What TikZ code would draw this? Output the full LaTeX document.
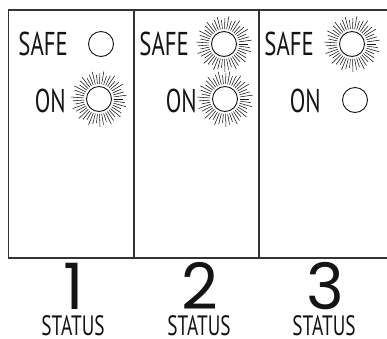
\documentclass[tikz,border=0pt]{standalone}
\usepackage{fontspec}
\newfontfamily\panelfont[FakeStretch=0.69]{PT Sans}
\newfontfamily\digitfont{Poppins}
\usetikzlibrary{positioning}
\definecolor{frameGray}{RGB}{51,51,51}
\definecolor{inkBlack}{RGB}{20,20,20}

% rays around a lit lamp
\newcommand{\sunrays}[1]{%
  \foreach \ang [count=\k] in {0,8,...,352} {
    \pgfmathsetmacro{\len}{ifthenelse(mod(\k,3)==0,13,ifthenelse(mod(\k,3)==1,9,11))}
    \draw[ray] (#1.center) ++(\ang:15) -- ++(\ang:\len);
  }}

\begin{document}
\begin{tikzpicture}[
    x=1pt, y=-1pt,
    frame/.style={draw=frameGray, line width=1.4pt},
    lamp/.style={circle, draw=inkBlack, minimum size=25pt, inner sep=0pt, line width=0.9pt},
    ray/.style={draw=inkBlack, line width=0.55pt},
    word/.style={font=\panelfont\fontsize{33}{33}\selectfont, text=inkBlack, inner sep=0pt, anchor=base east},
    digit/.style={font=\digitfont\fontsize{64}{64}\selectfont, text=inkBlack, inner sep=0pt, text depth=0pt, anchor=base},
    caption/.style={font=\panelfont\fontsize{28}{28}\selectfont, text=inkBlack, inner sep=0pt, text depth=0pt, anchor=base}
]
\useasboundingbox (0,0) rectangle (387,338);

% panels
\draw[frame] (387,10) -- (8.5,10) -- (8.5,258) -- (387,258);
\draw[frame, line width=1.1pt] (134,10) -- (134,258);
\draw[frame, line width=1.1pt] (259,10) -- (259,258);

% panel 1
\node[word] (safeA) at (68,55) {SAFE};
\node[word] (onA) at (66,112) {ON};
\node[lamp] (lampSafeA) at (101,44) {};
\node[lamp] (lampOnA) at (99,99) {};
\sunrays{lampOnA}

% panel 2
\node[word] (safeB) at (189,55) {SAFE};
\node[word] (onB) at (197,112) {ON};
\node[lamp] (lampSafeB) at (224,44) {};
\node[lamp] (lampOnB) at (225,99) {};
\sunrays{lampSafeB}
\sunrays{lampOnB}

% panel 3
\node[word] (safeC) at (314,55) {SAFE};
\node[word] (onC) at (321,112) {ON};
\node[lamp] (lampSafeC) at (352,44) {};
\node[lamp] (lampOnC) at (355,100) {};
\sunrays{lampSafeC}

% status numbers
\node[digit] (numA) at (74,309) {1};
\node[digit] (numB) at (200,309) {2};
\node[digit] (numC) at (325,309) {3};
\node[caption] (statusA) at (73,335) {STATUS};
\node[caption] (statusB) at (199,335) {STATUS};
\node[caption] (statusC) at (324,335) {STATUS};

\end{tikzpicture}
\end{document}
